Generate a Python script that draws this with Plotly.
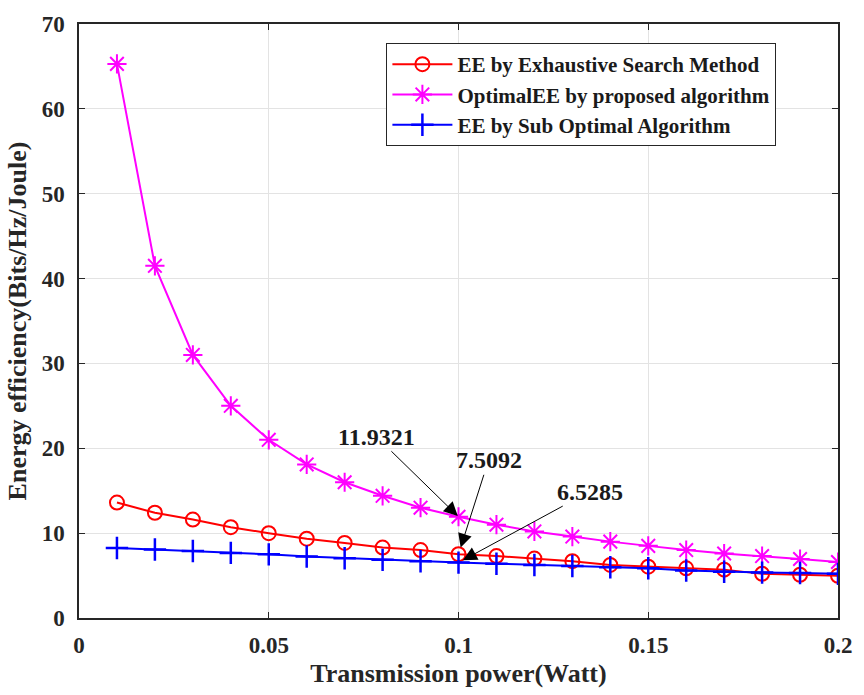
import plotly.graph_objects as go

# Transmission power levels (W)
power = [0.01, 0.02, 0.03, 0.04, 0.05, 0.06, 0.07, 0.08, 0.09, 0.10,
         0.11, 0.12, 0.13, 0.14, 0.15, 0.16, 0.17, 0.18, 0.19, 0.20]

# Energy efficiency (Bits/Hz/Joule) for each method
ee_exhaustive = [13.6, 12.4, 11.6, 10.7, 10.0, 9.35, 8.85, 8.3, 8.0, 7.5092,
                 7.3, 7.0, 6.7, 6.25, 6.05, 5.85, 5.7, 5.2, 5.1, 4.98]
ee_proposed = [65.3, 41.5, 31.0, 25.0, 21.0, 18.1, 16.0, 14.4, 13.0, 11.9321,
               11.0, 10.2, 9.6, 9.0, 8.5, 8.0, 7.6, 7.3, 6.95, 6.6]
ee_suboptimal = [8.25, 8.07, 7.9, 7.67, 7.5, 7.25, 7.05, 6.85, 6.68, 6.5285,
                 6.4, 6.25, 6.12, 5.98, 5.86, 5.6, 5.45, 5.35, 5.3, 5.2]

# Highlighted values at 0.1 W
callout_x = 0.10
callout_vals = [11.9321, 7.5092, 6.5285]
callout_text = ["11.9321", "7.5092", "6.5285"]

x_ticks = [0, 0.05, 0.1, 0.15, 0.2]
x_ticklabels = ["0", "0.05", "0.1", "0.15", "0.2"]
y_ticks = [0, 10, 20, 30, 40, 50, 60, 70]

SERIF = "Liberation Serif"

fig = go.Figure()
fig.add_trace(go.Scatter(
    x=power, y=ee_exhaustive, mode="lines+markers",
    name="EE by Exhaustive Search Method",
    line=dict(color="#FF0000", width=2),
    marker=dict(symbol="circle-open", size=14, color="#FF0000",
                line=dict(width=2, color="#FF0000")),
))
fig.add_trace(go.Scatter(
    x=power, y=ee_proposed, mode="lines+markers",
    name="OptimalEE by proposed algorithm",
    line=dict(color="#FF00FF", width=2),
    marker=dict(symbol="asterisk-open", size=16, color="#FF00FF",
                line=dict(width=2, color="#FF00FF")),
))
fig.add_trace(go.Scatter(
    x=power, y=ee_suboptimal, mode="lines+markers",
    name="EE by Sub Optimal Algorithm",
    line=dict(color="#0000FF", width=2),
    marker=dict(symbol="cross-thin-open", size=16, color="#0000FF",
                line=dict(width=2.5, color="#0000FF")),
))

# Callout label offsets (pixels from the pointed-at marker) and standoffs
offsets = [(-82, -80), (30, -94), (131, -71)]
standoffs = [1, 7, 5]
for val, txt, (dx, dy), so in zip(callout_vals, callout_text, offsets, standoffs):
    fig.add_annotation(
        x=callout_x, y=val, text=txt, showarrow=True,
        ax=dx, ay=dy, arrowhead=2, arrowsize=2.8, arrowwidth=1,
        arrowcolor="#000000", standoff=so,
        font=dict(family=SERIF, size=24, color="#1a1a1a", weight="bold"),
    )

axis_common = dict(
    showline=True, linecolor="#262626", linewidth=1.5, mirror="ticks",
    ticks="inside", ticklen=6, tickcolor="#262626", tickwidth=1,
    showgrid=True, gridcolor="#e3e3e3", gridwidth=1, zeroline=False,
    tickfont=dict(family=SERIF, size=23, color="#262626", weight="bold"),
)

fig.update_xaxes(
    range=[0, 0.2], tickvals=x_ticks, ticktext=x_ticklabels,
    title=dict(text="Transmission power(Watt)", standoff=6,
               font=dict(family=SERIF, size=26, color="#262626", weight="bold")),
    ticklabelstandoff=6,
    **axis_common,
)
fig.update_yaxes(
    range=[0, 70], tickvals=y_ticks,
    title=dict(text="Energy efficiency(Bits/Hz/Joule)", standoff=8,
               font=dict(family=SERIF, size=26, color="#262626", weight="bold")),
    ticklabelstandoff=8,
    **axis_common,
)

fig.update_layout(
    width=864, height=695,
    margin=dict(l=79, r=20, t=19, b=71),
    paper_bgcolor="white", plot_bgcolor="white",
    showlegend=True,
    legend=dict(
        x=0.405, y=0.968, xanchor="left", yanchor="top",
        bgcolor="white", bordercolor="#262626", borderwidth=1,
        font=dict(family=SERIF, size=21, color="#1a1a1a", weight="bold"),
        itemwidth=60,
    ),
)

fig.write_html("out.html")
